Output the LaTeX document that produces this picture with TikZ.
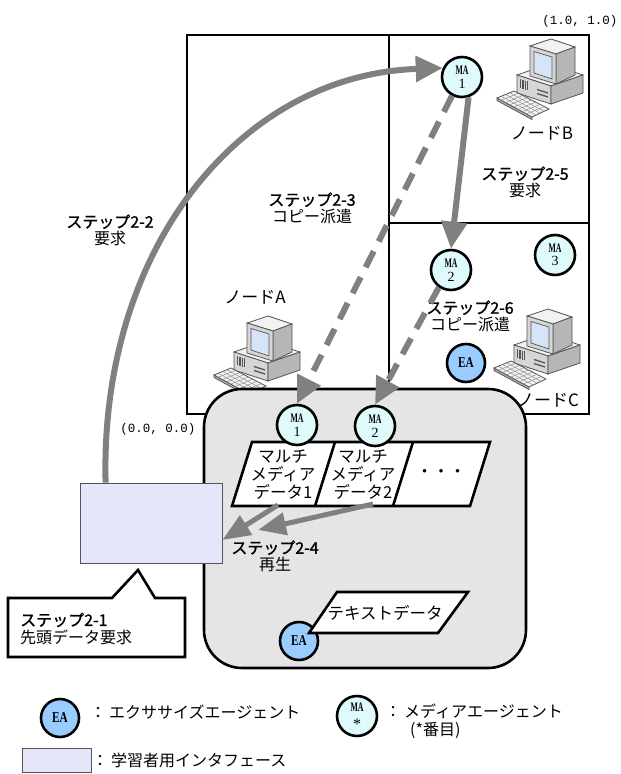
\documentclass[tikz,border=0pt]{standalone}
\usepackage{fontspec}
\setmainfont{Noto Sans CJK JP}
\newfontfamily\stepfont[FakeBold=1.2]{Noto Sans CJK JP}
\newfontfamily\coordfont{Liberation Mono}
\newfontfamily\agentfont{Liberation Serif}
\usetikzlibrary{arrows.meta}

\definecolor{arrowgray}{RGB}{128,128,128}
\definecolor{boxgray}{RGB}{229,229,229}
\definecolor{mafill}{RGB}{222,250,250}
\definecolor{eafill}{RGB}{153,204,255}
\definecolor{uifill}{RGB}{230,230,250}
\definecolor{pcface1}{RGB}{242,242,242}
\definecolor{pcface2}{RGB}{214,214,214}
\definecolor{pcface3}{RGB}{182,182,182}
\definecolor{pcedge}{RGB}{85,85,85}
\definecolor{pcscreen}{RGB}{214,228,247}

% label of a media agent: "MA" over its number
\newcommand\malbl[1]{\scalebox{0.6}[1]{\bfseries\fontsize{13}{13}\selectfont MA}\\[1.5pt]{\fontsize{14}{14}\selectfont #1}}
\newcommand\ealbl{\scalebox{0.75}[1]{\bfseries\fontsize{15}{15}\selectfont EA}}
\newcommand\steptitle[1]{{\stepfont #1}}

\tikzset{
  pics/pc/.style={code={
    % desktop case
    \filldraw[draw=pcedge, line width=0.8pt, fill=pcface1] (22,37) -- (54,26) -- (88,37) -- (56,48) -- cycle;
    \filldraw[draw=pcedge, line width=0.8pt, fill=pcface2] (22,37) -- (56,48) -- (56,66) -- (22,55) -- cycle;
    \filldraw[draw=pcedge, line width=0.8pt, fill=pcface3] (56,48) -- (88,37) -- (88,55) -- (56,66) -- cycle;
    \foreach \k in {0,...,4} \draw[pcedge, line width=0.6pt] ({25+1.8*\k},{41+0.58*\k}) -- ++(0,9);
    \draw[pcedge, line width=1.3pt] (42,51.5) -- (53,55);
    \draw[pcedge, line width=1.3pt] (42,55.5) -- (53,59);
    % monitor
    \filldraw[draw=pcedge, line width=0.8pt, fill=pcface1] (35,8) -- (56,1) -- (80,9) -- (61,16) -- cycle;
    \filldraw[draw=pcedge, line width=0.8pt, fill=pcface3] (61,16) -- (80,9) -- (80,37) -- (61,46) -- cycle;
    \filldraw[draw=pcedge, line width=0.8pt, fill=pcface2] (35,8) -- (61,16) -- (61,46) -- (35,38) -- cycle;
    \filldraw[draw=pcedge, line width=0.7pt, fill=pcscreen] (39,13.5) -- (57,19) -- (57,41) -- (39,35) -- cycle;
    % keyboard
    \filldraw[draw=pcedge, line width=0.8pt, fill=pcface3] (2,60) -- (37,79) -- (37,81.5) -- (2,62.5) -- cycle;
    \filldraw[draw=pcedge, line width=0.8pt, fill=pcface1] (2,60) -- (19,53) -- (54,71) -- (37,79) -- cycle;
    \foreach \t in {0.25,0.5,0.75}
      \draw[gray, line width=0.4pt] ({2+17*\t},{60-7*\t}) -- ({37+17*\t},{79-7*\t});
    \foreach \s in {0.12,0.24,...,0.9}
      \draw[gray, line width=0.4pt] ({2+35*\s},{60+19*\s}) -- ({19+35*\s},{53+19*\s});
  }},
  frame/.style={line width=2.6pt},
  agentma/.style={circle, draw, line width=2.6pt, fill=mafill, minimum size=40pt,
    inner sep=0pt, align=center, font=\agentfont},
  agentea/.style={circle, draw, line width=2.6pt, fill=eafill, minimum size=38pt,
    inner sep=0pt, font=\agentfont},
  flow/.style={draw=arrowgray, line width=6pt, -{Triangle[length=27pt,width=25pt]}},
  copyflow/.style={flow, dash pattern=on 18pt off 11pt},
  playflow/.style={draw=arrowgray, line width=5pt, -{Triangle[length=28pt,width=22pt]}},
  steplbl/.style={align=center, inner sep=0pt, font=\fontsize{16}{16.5}\selectfont},
  nodelbl/.style={inner sep=0pt, font=\fontsize{17}{17}\selectfont},
  datatxt/.style={align=center, inner sep=0pt, font=\fontsize{16.5}{18}\selectfont},
  shapeline/.style={line width=2.6pt, line join=miter},
  legendtxt/.style={anchor=west, inner sep=0pt, align=left, font=\fontsize{16}{18}\selectfont},
  coordlbl/.style={inner sep=0pt, font=\coordfont\fontsize{12.5}{12.5}\selectfont},
}

\begin{document}
\begin{tikzpicture}[x=1pt,y=-1pt]
\useasboundingbox (0,0) rectangle (621,774);

% network of nodes A, B, C
\draw[frame] (187,35) rectangle (589,414);
\draw[frame] (389,35) -- (389,414);
\draw[frame] (389,223) -- (589,223);

\node[coordlbl] (c11) at (580,21) {(1.0, 1.0)};

\pic (pcB) at (495,38) {pc};
\pic (pcA) at (212,315) {pc};
\pic (pcC) at (492,308) {pc};

\node[nodelbl] (lblB) at (542,133) {ノードB};
\node[nodelbl] (lblA) at (255,297) {ノードA};
\node[nodelbl] (lblC) at (548,400) {ノードC};

\node[steplbl] (s25) at (525,182) {\steptitle{ステップ2-5}\\要求};
\node[steplbl] (s23) at (312,208) {\steptitle{ステップ2-3}\\コピー派遣};
\node[steplbl] (s26) at (470,316) {\steptitle{ステップ2-6}\\コピー派遣};
\node[steplbl] (s22) at (110,230) {\steptitle{ステップ2-2}\\要求};

% player area
\node[draw, line width=2.6pt, fill=boxgray, rounded corners=38pt,
      minimum width=322pt, minimum height=279pt, inner sep=0pt] (player) at (365,528.5) {};

\node[coordlbl] (c00) at (158,429) {(0.0, 0.0)};

% multimedia data
\draw[shapeline, fill=white] (252,442) -- (490,442) -- (470,506) -- (232,506) -- cycle;
\draw[shapeline] (335,442) -- (315,506);
\draw[shapeline] (413,442) -- (393,506);
\node[datatxt] (md1) at (283,475) {マルチ\\メディア\\データ1};
\node[datatxt] (md2) at (363,475) {マルチ\\メディア\\データ2};
\node[datatxt] (md3) at (441,473) {・・・};
\coordinate (md1foot) at (278,505);
\coordinate (md2foot) at (373,504);
\coordinate (play2) at (258,530);

% text data with its exercise agent
\node[agentea] (eab) at (299,641) {\ealbl};
\draw[shapeline, fill=white] (337,592) -- (468,592) -- (438,633) -- (309,633) -- cycle;
\node[inner sep=0pt, font=\fontsize{16.5}{18}\selectfont] (txtdata) at (385,613) {テキストデータ};

% learner interface
\node[draw=pcedge, line width=0.8pt, fill=uifill, minimum width=142pt, minimum height=80pt,
      inner sep=0pt] (ui) at (151,523) {};

% callout
\draw[shapeline, fill=white] (8,598) -- (112,598) -- (138,570) -- (155,598) -- (185,598)
  -- (185,657) -- (8,657) -- cycle;
\node[anchor=west, align=left, inner sep=0pt, font=\fontsize{16}{18}\selectfont] (s21) at (20,629)
  {\steptitle{ステップ2-1}\\先頭データ要求};

\node[steplbl] (s24) at (275,556) {\steptitle{ステップ2-4}\\再生};

% agents
\node[agentma] (ma1t) at (462,77) {\malbl{1}};
\node[agentma] (ma2c) at (451,270) {\malbl{2}};
\node[agentma] (ma3c) at (555,255) {\malbl{3}};
\node[agentea] (eac) at (466,363) {\ealbl};
\node[agentma] (ma1b) at (297,425) {\malbl{1}};
\node[agentma] (ma2b) at (375,426) {\malbl{2}};

% flows
\draw[flow] ([xshift=26pt]ui.north west) .. controls +(-6,-233) and +(-203,7) .. (ma1t.155);
\draw[flow] (ma1t.-72) -- (ma2c.north);
\draw[copyflow] (ma1t.-118) -- (ma1b.north);
\draw[copyflow] (ma2c.-125) -- (ma2b.north);
\draw[playflow] (md1foot) -- ([yshift=-17pt]ui.east);
\draw[playflow] (md2foot) -- (play2);

% legend
\node[agentea] (legea) at (60,718) {\ealbl};
\node[legendtxt] (legeatxt) at (90,712) {：\hspace{3pt}エクササイズエージェント};
\node[agentma] (legma) at (357,716)
  {\scalebox{0.6}[1]{\bfseries\fontsize{13}{13}\selectfont MA}\\[2pt]{\fontsize{16}{16}\selectfont\raisebox{-4pt}{*}}};
\node[legendtxt] (legmatxt) at (385,721) {：\hspace{3pt}メディアエージェント\\\hspace*{25pt}(*番目)};
\node[draw=pcedge, line width=0.8pt, fill=uifill, minimum width=69pt, minimum height=24pt,
      inner sep=0pt] (legui) at (56.5,760.5) {};
\node[legendtxt] (leguitxt) at (92,760) {：\hspace{3pt}学習者用インタフェース};
\end{tikzpicture}
\end{document}
